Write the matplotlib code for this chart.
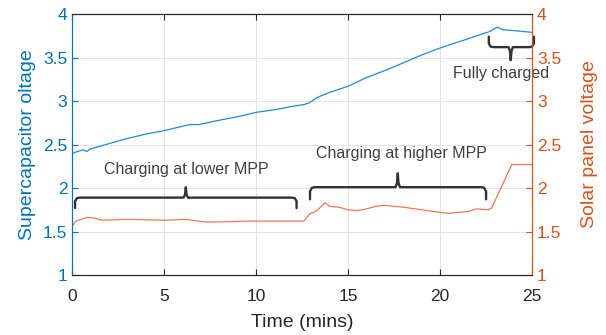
import matplotlib.pyplot as plt
import matplotlib
matplotlib.rcParams['font.family'] = ['Liberation Sans', 'DejaVu Sans']

# data
t_cap = [0, 0.3, 0.6, 0.8, 1.0, 2, 3, 4, 5, 6, 6.4, 6.9, 8, 9, 10, 11, 12, 12.6,
         12.9, 13.3, 14, 15, 16, 17, 18, 19, 20, 21, 22, 22.7, 23.1, 23.4, 24, 25]
v_cap = [2.40, 2.42, 2.44, 2.42, 2.45, 2.51, 2.57, 2.62, 2.66, 2.71, 2.73, 2.73,
         2.78, 2.82, 2.87, 2.90, 2.94, 2.96, 2.98, 3.04, 3.10, 3.17, 3.27, 3.35,
         3.44, 3.53, 3.61, 3.68, 3.75, 3.80, 3.85, 3.82, 3.81, 3.79]

t_sol = [0, 0.2, 0.5, 0.8, 1.0, 1.3, 1.6, 3, 5, 6.2, 6.5, 7.2, 8, 9.5, 10, 12,
         12.6, 12.9, 13.3, 13.75, 14.0, 14.5, 15, 15.5, 16, 16.5, 17, 17.5, 18,
         19, 20, 20.5, 21, 21.5, 22, 22.6, 22.8, 23.9, 25]
v_sol = [1.56, 1.62, 1.64, 1.66, 1.66, 1.65, 1.63, 1.64, 1.63, 1.64, 1.63, 1.61,
         1.61, 1.62, 1.62, 1.62, 1.62, 1.70, 1.74, 1.83, 1.79, 1.78, 1.75, 1.74,
         1.76, 1.79, 1.80, 1.79, 1.78, 1.75, 1.72, 1.71, 1.72, 1.73, 1.76, 1.75,
         1.77, 2.27, 2.27]

blue = '#0072BD'
orange = '#D95319'
dark = '#262626'

fig = plt.figure(figsize=(6.06, 3.35), dpi=100)
ax = fig.add_axes([0.119, 0.179, 0.759, 0.779])
ax2 = ax.twinx()

ax.plot(t_cap, v_cap, color='#1f8ad6', lw=0.9)
ax2.plot(t_sol, v_sol, color='#ec7a50', lw=0.9)

yt = [1, 1.5, 2, 2.5, 3, 3.5, 4]
ylab = ['1', '1.5', '2', '2.5', '3', '3.5', '4']
for a in (ax, ax2):
    a.set_xlim(0, 25)
    a.set_ylim(1, 4)
    a.set_yticks(yt)
    a.set_yticklabels(ylab)
ax.set_xticks([0, 5, 10, 15, 20, 25])
ax.grid(True, color='#e4e4e4', lw=0.7)
ax.set_axisbelow(True)

ax.tick_params(axis='x', direction='in', length=4, colors=dark, labelsize=12.5,
               top=True, pad=10)
ax.tick_params(axis='y', direction='in', length=4, colors=blue, labelsize=12.5)
ax2.tick_params(axis='y', direction='in', length=4, colors=orange, labelsize=12.5)

for a in (ax, ax2):
    a.spines['top'].set_color(dark)
    a.spines['bottom'].set_color(dark)
    a.spines['left'].set_color(blue)
    a.spines['right'].set_color(orange)

ax.set_xlabel('Time (mins)', fontsize=14, color=dark, labelpad=7)
ax.set_ylabel('Supercapacitor oltage', fontsize=14, color=blue, labelpad=5)
ax2.set_ylabel('Solar panel voltage', fontsize=14, color=orange, labelpad=14)


def bracket(a, x0, x1, y, drop, tip, xm=None):
    # curly-ish bracket: ends go by `drop`, middle tip by `tip`
    if xm is None:
        xm = (x0 + x1) / 2
    r = 0.25
    xs = [x0, x0, x0 + r * 0.4, x0 + r, xm - 0.12, xm - 0.04, xm, xm + 0.04,
          xm + 0.12, x1 - r, x1 - r * 0.4, x1, x1]
    ys = [y + drop, y + drop * 0.35, y + drop * 0.05, y, y, y + tip * 0.3, y + tip,
          y + tip * 0.3, y, y, y + drop * 0.05, y + drop * 0.35, y + drop]
    a.plot(xs, ys, color='#333333', lw=1.7, solid_capstyle='round',
           solid_joinstyle='round', clip_on=False)


bracket(ax, 0.16, 12.2, 1.89, -0.12, 0.12, xm=6.18)
bracket(ax, 12.93, 22.5, 2.01, -0.14, 0.16, xm=17.7)
bracket(ax, 22.65, 25.1, 3.62, 0.12, -0.15, xm=23.84)

ax.text(6.2, 2.21, 'Charging at lower MPP', ha='center', va='center',
        fontsize=11.5, color='#404040')
ax.text(17.9, 2.40, 'Charging at higher MPP', ha='center', va='center',
        fontsize=11.5, color='#404040')
ax.text(23.3, 3.32, 'Fully charged', ha='center', va='center',
        fontsize=11.5, color='#404040')

plt.savefig('out.png', dpi=100)
